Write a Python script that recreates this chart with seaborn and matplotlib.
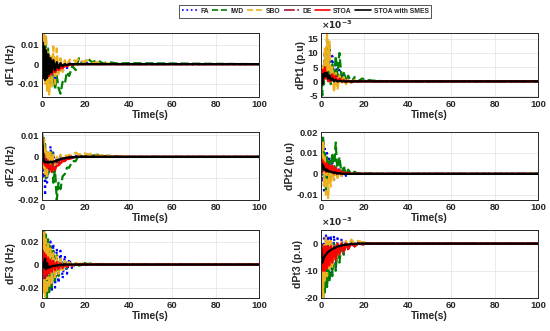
import numpy as np
import pandas as pd
import seaborn as sns
import matplotlib.pyplot as plt

# common time base (s) for the turning points
T = [0, 0.3, 0.6, 1, 1.4, 1.8, 2.3, 2.8, 3.3, 3.9, 4.5, 5.2, 6, 6.8, 7.6, 8.5,
     9.5, 10.5, 11.5, 12.5, 14, 15.5, 17, 19, 21, 23, 25.5, 28, 31, 35, 40, 100]

methods = ["FA", "IWD", "SBO", "DE", "STOA", "STOA with SMES"]

# dF1 (Hz)
dF1_FA = [0, 0.012, -0.004, 0.008, -0.006, 0.004, -0.008, 0.002,
          -0.009, -0.001, -0.008, -0.002, -0.007, -0.001, -0.005, -0.001,
          -0.004, 0.0, -0.002, 0.001, -0.001, 0.0015, 0.0005, 0.0012,
          0.0004, 0.0008, 0.0002, 0.0004, 0.0001, 0.0001, 0, 0]
dF1_IWD = [0, 0.006, -0.003, 0.010, -0.004, 0.014, -0.006, 0.008,
           -0.010, 0.002, -0.011, -0.003, -0.013, -0.006, -0.012, -0.015,
           -0.009, -0.010, -0.004, -0.006, -0.001, -0.003, 0.003, 0.0,
           0.003, 0.001, 0.002, 0.0005, 0.001, 0.0003, 0.0005, 0]
dF1_SBO = [0, 0.010, -0.006, 0.017, -0.010, 0.015, -0.014, 0.006,
           -0.016, 0.004, -0.012, 0.009, -0.010, 0.008, -0.006, 0.003,
           -0.004, 0.002, -0.001, 0.002, 0.003, 0.001, 0.003, 0.001,
           0.002, 0.0005, 0.001, 0.0002, 0.0003, 0, 0, 0]
dF1_DE = [0, 0.005, -0.006, 0.004, -0.007, 0.002, -0.007, 0.001,
          -0.006, 0.0, -0.005, -0.001, -0.004, -0.001, -0.003, -0.001,
          -0.002, 0.0, -0.001, 0, 0, 0, 0, 0,
          0, 0, 0, 0, 0, 0, 0, 0]
dF1_STOA = [0, -0.005, -0.006, -0.003, -0.007, -0.004, -0.006, -0.004,
            -0.006, -0.003, -0.005, -0.003, -0.004, -0.002, -0.003, -0.002,
            -0.002, -0.001, -0.001, -0.0005, -0.0002, 0, 0, 0,
            0, 0, 0, 0, 0, 0, 0, 0]
dF1_SMES = [0, 0.011, -0.007, 0.009, -0.008, 0.007, -0.007, 0.005,
            -0.005, 0.003, -0.004, 0.002, -0.003, 0.001, -0.002, 0.0005,
            -0.001, 0, -0.0005, 0, 0, 0, 0, 0,
            0, 0, 0, 0, 0, 0, 0, 0]

# dPt1 (x10^-3 p.u)
dPt1_FA = [0, 4, 1, 6, 2, 10, 3, 12,
           2, 13, 1, 9, 0, 7, 1, 4,
           0, 3, 0, 1.5, 0.5, 1, 0, 0.5,
           0, 0.3, 0, 0.1, 0, 0, 0, 0]
dPt1_IWD = [0, -2, -5, 4, -1, 10, 2, 15,
            3, 12, -1, 6, 0, 9, 2, 10,
            1, 3, 0, 2, -0.5, 1.5, 0, 1,
            0.5, 0.3, 0.2, 0.1, 0, 0, 0, 0]
dPt1_SBO = [0, 5, 0, 6, 1, 12, 2, 16.5,
            4, 14, 0, 5, -4, 3, -3, 2,
            -1, 1.5, -1, 1, -0.5, 0.5, -0.3, 0.2,
            0, 0.1, 0, 0, 0, 0, 0, 0]
dPt1_DE = [0, 2, 0, 4, 1, 4.5, 1, 3,
           0.5, 2, 0, 1.5, 0, 1, 0, 0.5,
           0, 0.2, 0, 0, 0, 0, 0, 0,
           0, 0, 0, 0, 0, 0, 0, 0]
dPt1_STOA = [0, 2, -1, 4, 2, 5, 1, 3,
             0, 1, 0, 2.5, 1, 2, 0, 1,
             0, 0.5, -0.3, 0.2, -0.2, 0, 0, 0,
             0, 0, 0, 0, 0, 0, 0, 0]
dPt1_SMES = [0, 1, -1, 2.5, 1.5, 3, 2, 3,
             1, 2, 0.5, 1, 0, 0.5, 0, 0.2,
             0, 0, 0, 0, 0, 0, 0, 0,
             0, 0, 0, 0, 0, 0, 0, 0]

# dF2 (Hz)
dF2_FA = [0, 0.008, -0.010, 0.004, -0.018, 0.002, -0.012, 0.003,
          -0.008, 0.005, -0.006, 0.002, -0.005, 0.0, -0.003, 0.0,
          -0.002, 0.0, -0.001, 0.0005, 0.0, 0.0005, 0.0, 0.0003,
          0, 0.0002, 0, 0, 0, 0, 0, 0]
dF2_IWD = [0, 0.004, 0.010, -0.004, 0.006, -0.010, 0.002, -0.008,
           0.001, -0.006, 0.003, -0.012, -0.006, -0.020, -0.012, -0.015,
           -0.009, -0.008, -0.005, -0.005, -0.002, -0.002, 0.001, 0.0,
           0.001, 0.0005, 0.001, 0.0003, 0.0005, 0.0002, 0, 0]
dF2_SBO = [0, 0.009, -0.005, 0.008, -0.008, 0.004, -0.009, 0.002,
           -0.006, 0.002, -0.008, 0.001, -0.004, 0.0, -0.002, 0.001,
           -0.001, 0.001, 0.0, 0.001, 0.0005, 0.002, 0.001, 0.002,
           0.001, 0.0015, 0.0005, 0.0008, 0.0003, 0.0002, 0, 0]
dF2_DE = [0, 0.006, -0.002, 0.002, -0.004, 0.0, -0.005, -0.001,
          -0.006, -0.002, -0.006, -0.003, -0.005, -0.002, -0.003, -0.001,
          -0.002, -0.001, -0.0005, 0, 0, 0, 0, 0,
          0, 0, 0, 0, 0, 0, 0, 0]
dF2_STOA = [0, 0.004, -0.003, -0.002, -0.004, -0.003, -0.005, -0.004,
            -0.005, -0.004, -0.007, -0.005, -0.006, -0.004, -0.004, -0.003,
            -0.002, -0.002, -0.001, -0.001, -0.0005, 0, 0, 0,
            0, 0, 0, 0, 0, 0, 0, 0]
dF2_SMES = [0.011, 0.004, -0.001, -0.002, -0.0025, -0.0025, -0.0025, -0.0025,
            -0.0025, -0.0025, -0.0025, -0.0023, -0.002, -0.0017, -0.0014, -0.0011,
            -0.0008, -0.0006, -0.0004, -0.0003, -0.0002, -0.0001, 0, 0,
            0, 0, 0, 0, 0, 0, 0, 0]

# dPt2 (p.u)
dPt2_FA = [0, 0.010, -0.004, 0.016, -0.008, 0.012, -0.006, 0.010,
           -0.004, 0.008, -0.002, 0.006, -0.003, 0.004, -0.002, 0.003,
           -0.001, 0.002, -0.001, 0.001, 0.0, 0.0005, 0, 0.0002,
           0, 0, 0, 0, 0, 0, 0, 0]
dPt2_IWD = [0, 0.012, 0.002, 0.018, -0.002, 0.010, -0.010, 0.008,
            -0.004, 0.006, 0.0, 0.010, 0.002, 0.015, 0.0, 0.008,
            0.0, 0.004, -0.001, 0.002, 0.0, 0.001, 0.0, 0.0005,
            0, 0.0003, 0, 0, 0, 0, 0, 0]
dPt2_SBO = [0, 0.014, 0.0, 0.016, -0.006, 0.008, -0.010, 0.004,
            -0.012, 0.002, -0.006, 0.004, -0.003, 0.002, -0.002, 0.001,
            -0.001, 0.0005, -0.0005, 0.0003, 0, 0, 0, 0,
            0, 0, 0, 0, 0, 0, 0, 0]
dPt2_DE = [0, 0.006, 0.001, 0.005, 0.001, 0.004, 0.001, 0.004,
           0.001, 0.003, 0.0, 0.002, 0.0, 0.001, 0, 0.0005,
           0, 0, 0, 0, 0, 0, 0, 0,
           0, 0, 0, 0, 0, 0, 0, 0]
dPt2_STOA = [0, 0.007, 0.002, 0.006, 0.002, 0.005, 0.001, 0.005,
             0.002, 0.004, 0.001, 0.004, 0.001, 0.003, 0.0005, 0.002,
             0.0, 0.001, 0.0, 0.0005, 0, 0, 0, 0,
             0, 0, 0, 0, 0, 0, 0, 0]
dPt2_SMES = [0, 0.005, 0.003, 0.004, 0.002, 0.0025, 0.0015, 0.002,
             0.0012, 0.0012, 0.001, 0.0008, 0.0006, 0.0005, 0.0003, 0.0002,
             0.0001, 0, 0, 0, 0, 0, 0, 0,
             0, 0, 0, 0, 0, 0, 0, 0]

# dF3 (Hz)
dF3_FA = [0, 0.010, -0.010, 0.016, -0.018, 0.018, -0.022, 0.020,
          -0.022, 0.020, -0.024, 0.018, -0.020, 0.014, -0.016, 0.012,
          -0.012, 0.008, -0.008, 0.005, -0.004, 0.002, -0.002, 0.001,
          -0.0005, 0.0003, 0, 0, 0, 0, 0, 0]
dF3_IWD = [0, 0.020, -0.020, 0.030, -0.026, 0.026, -0.029, 0.022,
           -0.024, 0.016, -0.020, 0.012, -0.014, 0.008, -0.010, 0.006,
           -0.006, 0.004, -0.004, 0.002, -0.002, 0.001, -0.001, 0.0015,
           0.0005, 0.001, 0.0003, 0.0005, 0, 0, 0, 0]
dF3_SBO = [0, 0.024, -0.024, 0.028, -0.028, 0.022, -0.024, 0.018,
           -0.020, 0.014, -0.016, 0.010, -0.012, 0.007, -0.008, 0.005,
           -0.005, 0.003, -0.003, 0.002, -0.001, 0.001, 0.0005, 0.001,
           0.0003, 0.0005, 0, 0.0002, 0, 0, 0, 0]
dF3_DE = [0, 0.010, -0.012, 0.010, -0.012, 0.008, -0.010, 0.006,
          -0.008, 0.004, -0.006, 0.003, -0.004, 0.002, -0.003, 0.001,
          -0.002, 0.0005, -0.001, 0, 0, 0, 0, 0,
          0, 0, 0, 0, 0, 0, 0, 0]
dF3_STOA = [0, 0.012, -0.010, 0.010, -0.008, 0.008, -0.008, 0.006,
            -0.007, 0.004, -0.006, 0.003, -0.005, 0.002, -0.004, 0.001,
            -0.003, 0.0005, -0.002, 0, -0.001, 0, 0, 0,
            0, 0, 0, 0, 0, 0, 0, 0]
dF3_SMES = [0, -0.003, 0.002, -0.002, 0.005, -0.004, 0.001, -0.003,
            -0.002, -0.002, -0.0015, -0.0012, -0.001, -0.0008, -0.0006, -0.0004,
            -0.0002, 0, 0, 0, 0, 0, 0, 0,
            0, 0, 0, 0, 0, 0, 0, 0]

# dPt3 (x10^-3 p.u)
dPt3_FA = [0, -8, 0, -14, 2, -17, 3, -15,
           3, -13, 3, -11, 3, -9, 2, -6,
           2, -4, 1, -2, 0.5, -1, 0.5, -0.5,
           0.3, 0, 0.2, 0, 0, 0, 0, 0]
dPt3_IWD = [0, -12, -2, -20, -4, -18, -2, -16,
            0, -14, -1, -12, 0, -10, -1, -7,
            0, -4, 0, -2, 0.5, -1, 0, 0,
            0.2, 0, 0, 0, 0, 0, 0, 0]
dPt3_SBO = [0, -15, -3, -20, 0, -14, 3, -12,
            1, -10, 1, -9, 0, -6, 0, -4,
            1, -2, 1, -1, 1.5, 0, 1, 0.5,
            0.5, 0, 0.2, 0, 0, 0, 0, 0]
dPt3_DE = [0, -6, -2, -9, -3, -8, -2, -7,
           -2, -6, -1, -5, -1, -4, -1, -3,
           0, -2, 0, -1, 0, -0.5, 0, 0,
           0, 0, 0, 0, 0, 0, 0, 0]
dPt3_STOA = [0, -8, -2, -10, -1, -10, -1, -9,
             -1, -8, -1, -7, -1, -6, 0, -4,
             0, -3, 0, -2, 0, -1, 0, -0.3,
             0, 0, 0, 0, 0, 0, 0, 0]
dPt3_SMES = [0, -5, -7, -6, -5, -4.5, -4, -3.5,
             -3, -2.7, -2.4, -2, -1.7, -1.4, -1.1, -0.9,
             -0.7, -0.5, -0.4, -0.3, -0.2, -0.1, 0, 0,
             0, 0, 0, 0, 0, 0, 0, 0]

panels = [
    ("dF1 (Hz)", [dF1_FA, dF1_IWD, dF1_SBO, dF1_DE, dF1_STOA, dF1_SMES],
     (-0.0167, 0.0158), [-0.01, 0, 0.01], ["-0.01", "0", "0.01"], False),
    ("dPt1 (p.u)", [dPt1_FA, dPt1_IWD, dPt1_SBO, dPt1_DE, dPt1_STOA, dPt1_SMES],
     (-5.5, 17), [-5, 0, 5, 10, 15], ["-5", "0", "5", "10", "15"], True),
    ("dF2 (Hz)", [dF2_FA, dF2_IWD, dF2_SBO, dF2_DE, dF2_STOA, dF2_SMES],
     (-0.02, 0.0115), [-0.02, -0.01, 0, 0.01], ["-0.02", "-0.01", "0", "0.01"], False),
    ("dPt2 (p.u)", [dPt2_FA, dPt2_IWD, dPt2_SBO, dPt2_DE, dPt2_STOA, dPt2_SMES],
     (-0.0125, 0.02), [-0.01, 0, 0.01, 0.02], ["-0.01", "0", "0.01", "0.02"], False),
    ("dF3 (Hz)", [dF3_FA, dF3_IWD, dF3_SBO, dF3_DE, dF3_STOA, dF3_SMES],
     (-0.029, 0.030), [-0.02, 0, 0.02], ["-0.02", "0", "0.02"], False),
    ("dPt3 (p.u)", [dPt3_FA, dPt3_IWD, dPt3_SBO, dPt3_DE, dPt3_STOA, dPt3_SMES],
     (-20, 5), [-20, -10, 0], ["-20", "-10", "0"], True),
]

colors = ["#0000FF", "#008000", "#EDB120", "#A2142F", "#FF0000", "#000000"]
styles = [":", "--", "--", "-.", "-", "-"]
widths = [1.6, 1.6, 1.6, 1.4, 1.6, 1.7]

sns.set_style("whitegrid", {"grid.color": "#e6e6e6", "axes.edgecolor": "#262626",
                            "xtick.direction": "in", "ytick.direction": "in"})
plt.rcParams["font.family"] = ["Liberation Sans", "DejaVu Sans"]
plt.rcParams["font.weight"] = "bold"

fig = plt.figure(figsize=(5.5, 3.31), dpi=100)
lefts = [0.0764, 0.5836]
rows = [(0.707, 0.193), (0.396, 0.205), (0.100, 0.205)]

for i, (ylab, series, ylim, yt, ytl, expo) in enumerate(panels):
    b, h = rows[i // 2]
    ax = fig.add_axes([lefts[i % 2], b, 0.3945, h])
    for name, vals, c, ls, lw in zip(methods, series, colors, styles, widths):
        df = pd.DataFrame({"t": T, "v": vals})
        sns.lineplot(data=df, x="t", y="v", ax=ax, color=c, linestyle=ls, lw=lw,
                     label=name if i == 0 else None, legend=False)
    ax.set_xlim(0, 100)
    ax.set_ylim(*ylim)
    ax.set_xticks([0, 20, 40, 60, 80, 100])
    ax.set_yticks(yt)
    ax.set_yticklabels(ytl)
    ax.tick_params(labelsize=6.8, length=2, width=0.6, pad=2)
    for lab in ax.get_xticklabels() + ax.get_yticklabels():
        lab.set_fontweight("bold")
    ax.set_xlabel("Time(s)", fontsize=7.5, fontweight="bold", labelpad=1)
    ax.set_ylabel(ylab, fontsize=7.5, fontweight="bold", labelpad=1)
    ax.grid(True, lw=0.6)
    for sp in ax.spines.values():
        sp.set_linewidth(0.7)
    if expo:
        ax.text(0.0, 1.03, r"$\times10^{-3}$", transform=ax.transAxes,
                fontsize=6.5, ha="left", va="bottom")

handles, labels = fig.axes[0].get_legend_handles_labels()
leg = fig.legend(handles, labels, ncol=6, loc="upper center",
                 bbox_to_anchor=(0.555, 0.995), fontsize=4.9, frameon=True,
                 fancybox=False, edgecolor="#262626", handlelength=2.3,
                 columnspacing=0.5, handletextpad=0.4, borderpad=0.4)
leg.get_frame().set_linewidth(0.7)
for t in leg.get_texts():
    t.set_fontweight("bold")
for ln in leg.get_lines():
    ln.set_linewidth(1.2)

fig.savefig("out.png", dpi=100)
